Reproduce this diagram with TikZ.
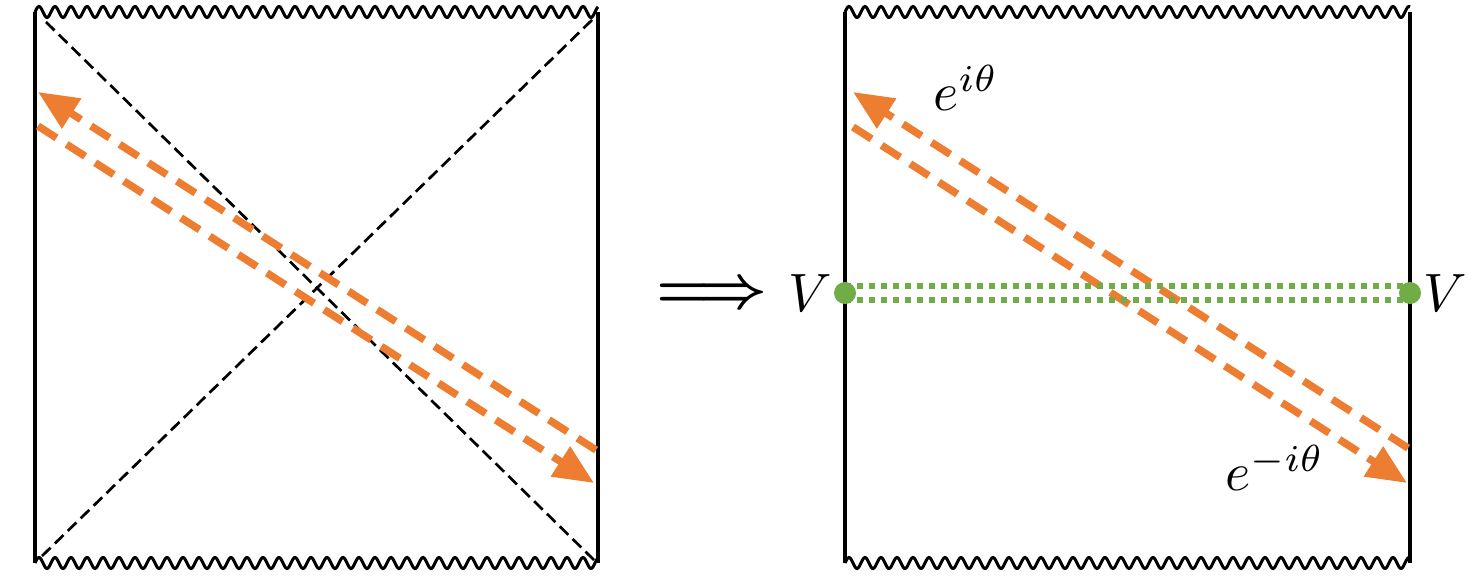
\documentclass[tikz,border=0pt]{standalone}
\usepackage{graphicx}
\usetikzlibrary{arrows.meta}
\definecolor{orangeC}{HTML}{ED7D31}
\definecolor{greenC}{HTML}{70AD47}
\newcommand{\bigmathlbl}[1]{\scalebox{5.4}{$#1$}}
\tikzset{
  wall/.style={line width=3.5pt, black},
  wavy/.style={line width=3pt, black},
  horizon/.style={line width=2.7pt, black, dash pattern=on 12pt off 6pt},
  ray/.style={line width=7.5pt, orangeC, dash pattern=on 22pt off 12pt,
              -{Triangle[length=40pt,width=34pt]}},
  geod/.style={line width=5.5pt, greenC, dash pattern=on 6pt off 6pt},
  vdot/.style={circle, fill=greenC, inner sep=0pt, minimum size=22pt},
  bigtxt/.style={inner sep=0pt}
}
\begin{document}
\begin{tikzpicture}[x=1pt,y=-1pt]
\useasboundingbox (0,0) rectangle (1475,584);
% ---------- left diagram ----------
\coordinate (LTL) at (35,12);
\coordinate (LTR) at (598,12);
\coordinate (LBL) at (35,563);
\coordinate (LBR) at (598,563);
\draw[wall] (LTL) -- (LBL);
\draw[wall] (LTR) -- (LBR);
\draw[wavy] plot[domain=0:563, samples=600] (35+\x, {12 - 5.5*sin(22.5*\x)});
\draw[wavy] plot[domain=0:563, samples=600] (35+\x, {563 - 5.5*sin(22.5*\x)});
\coordinate (H1a) at (46,22);
\coordinate (H1b) at (594,560);
\coordinate (H2a) at (42,556);
\coordinate (H2b) at (594,18);
\draw[horizon] (H1a) -- (H1b);
\draw[horizon] (H2a) -- (H2b);
\coordinate (LA1s) at (596,450);
\coordinate (LA1e) at (38,92);
\coordinate (LA2s) at (38,126);
\coordinate (LA2e) at (594,483);
\draw[ray] (LA1s) -- (LA1e);
\draw[ray] (LA2s) -- (LA2e);
% ---------- implies ----------
\node[bigtxt] (imp) at (712,296) {\scalebox{6}{\boldmath$\Longrightarrow$}};
% ---------- right diagram ----------
\coordinate (RTL) at (845,12);
\coordinate (RTR) at (1410,12);
\coordinate (RBL) at (845,563);
\coordinate (RBR) at (1410,563);
\draw[wall] (RTL) -- (RBL);
\draw[wall] (RTR) -- (RBR);
\draw[wavy] plot[domain=0:565, samples=600] (845+\x, {12 - 5.5*sin(22.5*\x)});
\draw[wavy] plot[domain=0:565, samples=600] (845+\x, {563 - 5.5*sin(22.5*\x)});
\coordinate (RA1s) at (1408,448);
\coordinate (RA1e) at (853,92);
\coordinate (RA2s) at (853,127);
\coordinate (RA2e) at (1407,483);
\draw[ray] (RA1s) -- (RA1e);
\draw[ray] (RA2s) -- (RA2e);
\coordinate (VL) at (845,293);
\coordinate (VR) at (1410,293);
\draw[geod] ([yshift=-7pt]VL) -- ([yshift=-7pt]VR);
\draw[geod] ([yshift=7pt]VL) -- ([yshift=7pt]VR);
\node[vdot] (VLd) at (VL) {};
\node[vdot] (VRd) at (VR) {};
\node[bigtxt] (VLt) at (810,293) {\bigmathlbl{V}};
\node[bigtxt] (VRt) at (1445,293) {\bigmathlbl{V}};
\node[bigtxt] (eplus) at (966,88) {\bigmathlbl{e^{i\theta}}};
\node[bigtxt] (eminus) at (1275,468) {\bigmathlbl{e^{-i\theta}}};
\end{tikzpicture}
\end{document}
